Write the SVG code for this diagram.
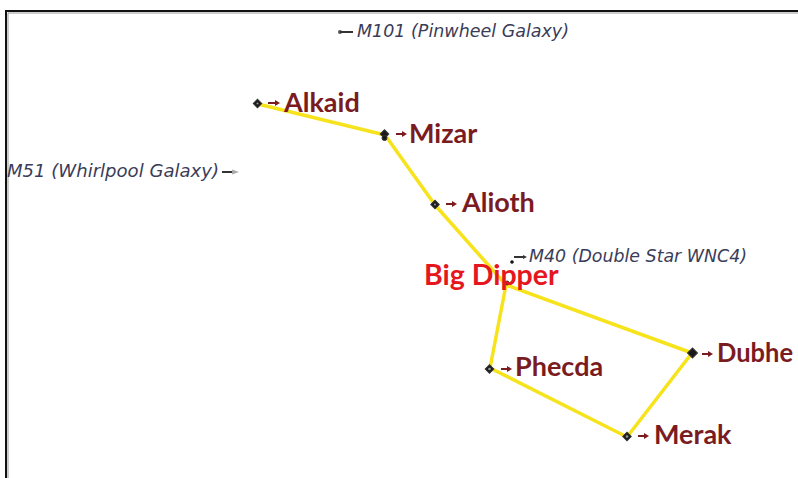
<svg xmlns="http://www.w3.org/2000/svg" width="798" height="478" viewBox="0 0 798 478">
<defs>
<style>
.star-lbl{font-family:Lato,"DejaVu Sans",sans-serif;font-weight:700;font-size:27px;fill:#7a1c1f}
.obj-lbl{font-family:"DejaVu Sans",Verdana,sans-serif;font-style:italic;font-size:17.6px;fill:#3a3d58}
.title{font-family:Lato,"DejaVu Sans",sans-serif;font-weight:700;font-size:28.5px;fill:#e5161d}
.edge{stroke:#f7e31c;stroke-width:3.5;stroke-linecap:round;fill:none}
.star{fill:#1a1a1a;stroke:#333;stroke-width:1}
.star-c{fill:#9a9a9a}
.ptr{stroke:#7a1c1f;stroke-width:2;fill:none}
.ptr-h{fill:#7a1c1f}
.optr{stroke:#333;stroke-width:2;fill:none}
</style>
</defs>
<rect width="798" height="478" fill="#ffffff"/>
<path d="M6,478 V11 H798" fill="none" stroke="#111" stroke-width="2"/>
<path d="M8,478 V13 H798" fill="none" stroke="#999" stroke-width="1"/>

<g id="connectors">
<line class="edge" x1="258" y1="104" x2="385" y2="135"/>
<line class="edge" x1="385" y1="135" x2="435" y2="205"/>
<line class="edge" x1="435" y1="205" x2="506" y2="285"/>
<line class="edge" x1="506" y1="285" x2="692" y2="353"/>
<line class="edge" x1="506" y1="285" x2="490" y2="368"/>
<line class="edge" x1="490" y1="368" x2="627" y2="437"/>
<line class="edge" x1="627" y1="437" x2="692" y2="353"/>
</g>

<g id="alkaid">
<rect class="star" x="254.5" y="100.5" width="6" height="6" transform="rotate(45 257.5 103.5)"/>
<circle class="star-c" cx="257.5" cy="103.5" r="1"/>
<line class="ptr" x1="268" y1="103" x2="276" y2="103"/><path class="ptr-h" d="M275,100 L280,103 L275,106Z"/>
<text class="star-lbl" x="284" y="111.5">Alkaid</text>
</g>
<g id="mizar">
<rect class="star" x="381.5" y="131" width="6" height="6" transform="rotate(45 384.5 134)"/>
<circle class="star" cx="384.5" cy="138" r="2.5"/>
<line class="ptr" x1="396" y1="134" x2="403" y2="134"/><path class="ptr-h" d="M402,131 L407,134 L402,137Z"/>
<text class="star-lbl" x="409" y="143">Mizar</text>
</g>
<g id="alioth">
<rect class="star" x="432" y="201.5" width="6" height="6" transform="rotate(45 435 204.5)"/>
<circle class="star-c" cx="435" cy="204.5" r="1"/>
<line class="ptr" x1="446" y1="204" x2="453" y2="204"/><path class="ptr-h" d="M452,201 L457,204 L452,207Z"/>
<text class="star-lbl" x="462" y="212">Alioth</text>
</g>
<g id="megrez">
<circle class="star" cx="507" cy="283" r="2"/>
</g>
<g id="phecda">
<rect class="star" x="486.5" y="366" width="6" height="6" transform="rotate(45 489.5 369)"/>
<circle class="star-c" cx="489.5" cy="369" r="1.3"/>
<line class="ptr" x1="501" y1="369" x2="508" y2="369"/><path class="ptr-h" d="M507,366 L512,369 L507,372Z"/>
<text class="star-lbl" x="515" y="376">Phecda</text>
</g>
<g id="dubhe">
<rect class="star" x="689" y="349.5" width="7" height="7" transform="rotate(45 692.5 353)"/>
<line class="ptr" x1="702" y1="354" x2="709" y2="354"/><path class="ptr-h" d="M708,351 L713,354 L708,357Z"/>
<text class="star-lbl" x="717" y="362" textLength="76" lengthAdjust="spacingAndGlyphs">Dubhe</text>
</g>
<g id="merak">
<rect class="star" x="624" y="433.5" width="6" height="6" transform="rotate(45 627 436.5)"/>
<circle class="star-c" cx="627" cy="436.5" r="1.3"/>
<line class="ptr" x1="638" y1="436" x2="645" y2="436"/><path class="ptr-h" d="M644,433 L649,436 L644,439Z"/>
<text class="star-lbl" x="654" y="444">Merak</text>
</g>

<g id="title">
<text class="title" x="424" y="285">Big Dipper</text>
</g>

<g id="m101">
<circle cx="340" cy="32" r="2" fill="#555"/>
<line class="optr" x1="340" y1="32" x2="353" y2="32"/>
<text class="obj-lbl" x="357" y="37" textLength="212" lengthAdjust="spacingAndGlyphs">M101 (Pinwheel Galaxy)</text>
</g>
<g id="m51">
<line class="optr" x1="222" y1="172" x2="233" y2="172"/>
<path d="M232,169.5 L239,172 L232,174.5Z" fill="#aaa"/>
<text class="obj-lbl" x="7" y="177" textLength="212" lengthAdjust="spacingAndGlyphs">M51 (Whirlpool Galaxy)</text>
</g>
<g id="m40">
<circle cx="512" cy="262" r="1.8" fill="#111"/>
<line class="optr" x1="514" y1="257" x2="524" y2="257"/>
<path d="M523,255 L527,257 L523,259Z" fill="#333"/>
<text class="obj-lbl" x="529" y="262" textLength="218" lengthAdjust="spacingAndGlyphs">M40 (Double Star WNC4)</text>
</g>
</svg>
